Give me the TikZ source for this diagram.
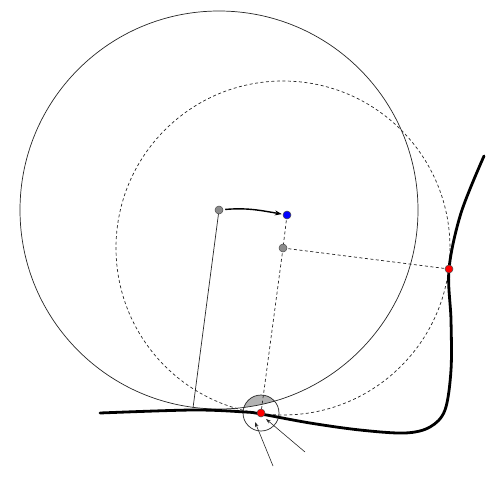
\documentclass[tikz,border=0pt]{standalone}
\usetikzlibrary{arrows.meta}
\begin{document}
\begin{tikzpicture}[x=1pt,y=-1pt,
  thinline/.style={line width=0.7pt, black!85},
  dashline/.style={line width=0.7pt, black!85, dash pattern=on 3pt off 2.5pt},
  dot/.style={circle, draw=black!70, line width=0.5pt, inner sep=0pt, minimum size=8pt},
  graydot/.style={dot, fill=black!45},
  bluedot/.style={dot, fill=blue},
  reddot/.style={dot, fill=red},
  ptr/.style={line width=0.6pt, black!85, -{Stealth[length=5pt,width=3.5pt]}}]
\useasboundingbox (0,0) rectangle (498,482);
% centres and points
\coordinate (C1) at (219,210);
\coordinate (C2) at (283,248);
\coordinate (P) at (261,413);
\coordinate (Q) at (449,269);
\coordinate (T) at (193,408);
\coordinate (B) at (287,215);
% gray lens
\begin{scope}
  \clip (C1) circle (199);
  \fill[black!30] (P) circle (18);
\end{scope}
% circles
\draw[thinline] (C1) circle (199);
\draw[dashline] (C2) circle (167);
\draw[thinline] (P) circle (18);
% radii
\draw[thinline] (C1) -- (T);
\draw[dashline] (B) -- (C2);
\draw[dashline] (C2) -- (P);
\draw[dashline] (C2) -- (Q);
% thick curve
\draw[line width=2.8pt, line cap=round] plot[smooth, tension=0.55] coordinates {
  (100,413) (193,410) (245,412) (261,414) (310,423) (360,430) (405,433)
  (430,427) (445,410) (451,370) (451,320) (449,269) (461,213) (484,156)};
% pointers
\coordinate (A1s) at (273,466);
\coordinate (A1e) at (255,422);
\coordinate (A2s) at (305,452);
\coordinate (A2e) at (266,419);
\draw[ptr] (A1s) -- (A1e);
\draw[ptr] (A2s) -- (A2e);
% dots
\node[graydot] (g1) at (C1) {};
\node[graydot] (g2) at (C2) {};
\node[bluedot] (b) at (B) {};
\node[reddot] (r1) at (P) {};
\node[reddot] (r2) at (Q) {};
% curved arrow
\draw[line width=1.4pt, -{Stealth[length=7pt,width=5pt]}, shorten <=2pt, shorten >=1pt]
  (g1) to[out=5, in=170] (b);
\end{tikzpicture}
\end{document}
